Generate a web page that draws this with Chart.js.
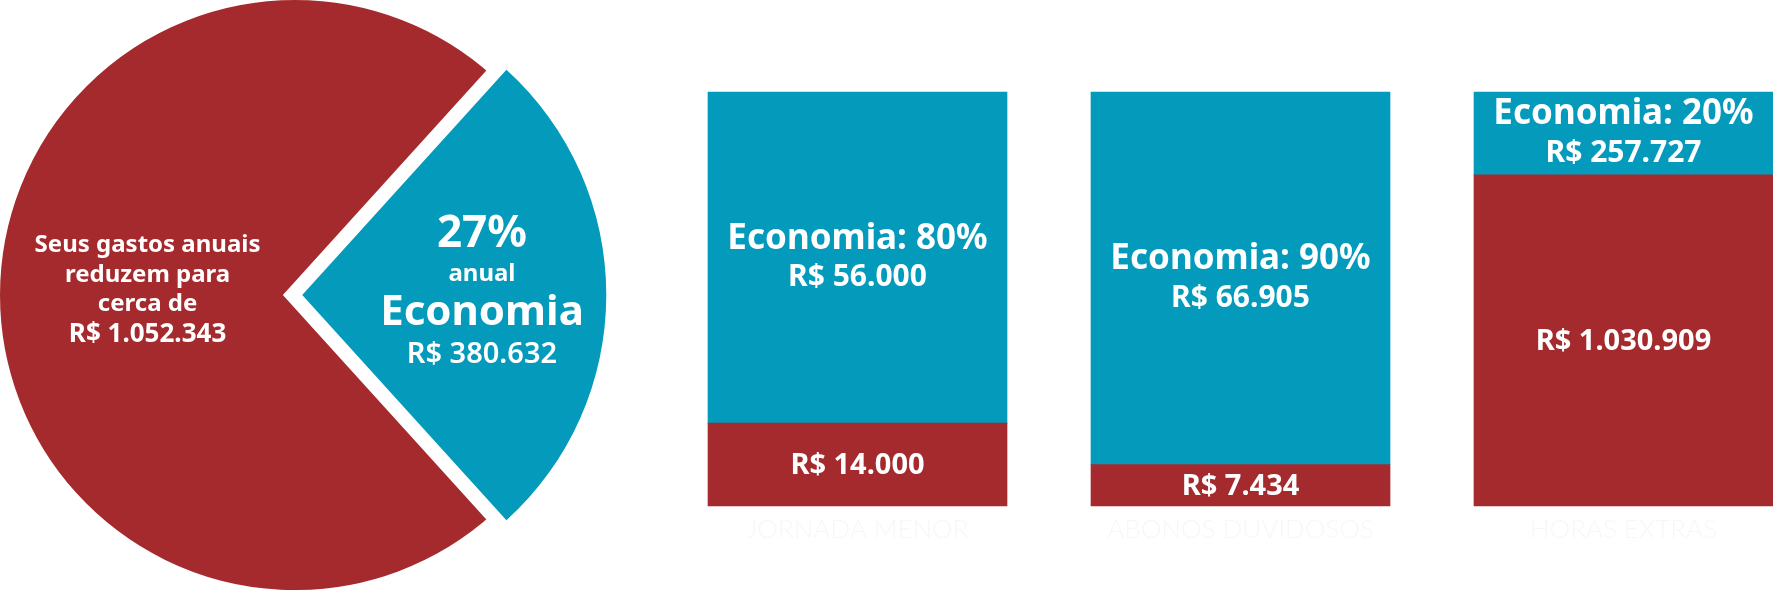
<!DOCTYPE html>
<html>
<head>
<meta charset="utf-8">
<script src="https://cdn.jsdelivr.net/npm/chart.js@4.4.1/dist/chart.umd.min.js"></script>
<style>
html,body{margin:0;padding:0;background:#ffffff;}
#wrap{position:relative;width:1773px;height:590px;overflow:hidden;background:#ffffff;}
#pie{position:absolute;left:0;top:0;}
#bars{position:absolute;left:620px;top:0;}
</style>
</head>
<body>
<div id="wrap">
  <canvas id="pie" width="640" height="590"></canvas>
  <canvas id="bars" width="1153" height="590"></canvas>
</div>
<script>
// ---- data ----
const pieLabels = ['Gastos anuais', 'Economia'];
const pieValues = [1052343, 380632];
const pieRedText = ['Seus gastos anuais', 'reduzem para', 'cerca de'];
const pieTealText = ['anual', 'Economia'];

const categories = ['JORNADA MENOR', 'ABONOS DUVIDOSOS', 'HORAS EXTRAS'];
const gastosValues = [14000, 7434, 1030909];
const economiaValues = [56000, 66905, 257727];

// ---- styles ----
const RED = '#a52a2e';
const TEAL = '#039abb';
const FONT = '"Noto Sans", "DejaVu Sans", sans-serif';

function fmt(n) {
  return 'R$ ' + String(n).replace(/\B(?=(\d{3})+(?!\d))/g, '.');
}

const pieTotal = pieValues.reduce((a, b) => a + b, 0);
const tealDeg = pieValues[1] / pieTotal * 360;
const tealPct = Math.round(pieValues[1] / pieTotal * 100);

const gastosShare = gastosValues.map((v, i) => v / (v + economiaValues[i]) * 100);
const economiaShare = economiaValues.map((v, i) => v / (v + gastosValues[i]) * 100);

const pieText = {
  id: 'pieText',
  afterDatasetsDraw(chart) {
    const ctx = chart.ctx;
    const arcs = chart.getDatasetMeta(0).data;
    ctx.save();
    ctx.fillStyle = '#ffffff';
    ctx.textAlign = 'center';
    ctx.textBaseline = 'middle';
    // red slice text
    const a0 = arcs[0];
    const m0 = (a0.startAngle + a0.endAngle) / 2;
    const x0 = a0.x + Math.cos(m0) * a0.outerRadius * 0.485;
    const y0 = a0.y;
    ctx.font = '700 24px ' + FONT;
    ctx.fillText(pieRedText[0], x0, y0 - 50);
    ctx.fillText(pieRedText[1], x0, y0 - 20);
    ctx.fillText(pieRedText[2], x0, y0 + 9);
    ctx.font = '700 26px ' + FONT;
    ctx.fillText(fmt(pieValues[0]), x0, y0 + 40);
    // teal slice text
    const a1 = arcs[1];
    const m1 = (a1.startAngle + a1.endAngle) / 2;
    const x1 = a1.x + Math.cos(m1) * a1.outerRadius * 0.615;
    const y1 = a1.y;
    ctx.font = '700 44px ' + FONT;
    ctx.fillText(tealPct + '%', x1, y1 - 61);
    ctx.font = '700 24px ' + FONT;
    ctx.fillText(pieTealText[0], x1, y1 - 21);
    ctx.font = '700 42px ' + FONT;
    ctx.fillText(pieTealText[1], x1, y1 + 18);
    ctx.font = '600 29px ' + FONT;
    ctx.fillText(fmt(pieValues[1]), x1, y1 + 60);
    ctx.restore();
  }
};

const barText = {
  id: 'barText',
  afterDatasetsDraw(chart) {
    const ctx = chart.ctx;
    const red = chart.getDatasetMeta(0).data;
    const teal = chart.getDatasetMeta(1).data;
    ctx.save();
    ctx.fillStyle = '#ffffff';
    ctx.textAlign = 'center';
    ctx.textBaseline = 'middle';
    categories.forEach((c, i) => {
      const t = teal[i];
      const cy = (t.y + t.base) / 2;
      const pct = Math.round(economiaShare[i]);
      ctx.font = '700 35px ' + FONT;
      ctx.fillText('Economia: ' + pct + '%', t.x, cy - 19);
      ctx.font = '700 30px ' + FONT;
      ctx.fillText(fmt(economiaValues[i]), t.x, cy + 20);
      const r = red[i];
      ctx.font = '700 29px ' + FONT;
      ctx.fillText(fmt(gastosValues[i]), r.x, (r.y + r.base) / 2 + 1);
    });
    ctx.restore();
  }
};

new Chart(document.getElementById('pie'), {
  type: 'pie',
  data: {
    labels: pieLabels,
    datasets: [{
      data: pieValues,
      backgroundColor: [RED, TEAL],
      borderColor: '#ffffff',
      borderWidth: [18, 0],
      borderJoinStyle: 'miter',
      offset: [0, 29],
      clip: false
    }]
  },
  options: {
    responsive: false,
    animation: false,
    devicePixelRatio: 1,
    rotation: 90 + tealDeg / 2,
    radius: 304,
    layout: { padding: { left: 0, top: 0, right: 50, bottom: 0 } },
    plugins: { legend: { display: false }, tooltip: { enabled: false } }
  },
  plugins: [pieText]
});

new Chart(document.getElementById('bars'), {
  type: 'bar',
  data: {
    labels: categories,
    datasets: [
      { label: 'Gastos', data: gastosShare, backgroundColor: RED, borderWidth: 0, barThickness: 299, clip: false, stack: 's' },
      { label: 'Economia', data: economiaShare, backgroundColor: TEAL, borderWidth: 0, barThickness: 299, clip: false, stack: 's' }
    ]
  },
  options: {
    responsive: false,
    animation: false,
    devicePixelRatio: 1,
    layout: { padding: { left: 237.5, right: 149.5, top: 92, bottom: 0 } },
    plugins: { legend: { display: false }, tooltip: { enabled: false } },
    scales: {
      x: {
        stacked: true,
        offset: false,
        grid: { display: false, drawTicks: false },
        border: { display: false },
        ticks: { color: '#f7f7f7', font: { family: 'Lato', size: 26, weight: '300' }, padding: 8, maxRotation: 0, autoSkip: false },
        afterFit(s) { s.height = 84; }
      },
      y: { stacked: true, display: false, min: 0, max: 100 }
    }
  },
  plugins: [barText]
});
</script>
</body>
</html>
